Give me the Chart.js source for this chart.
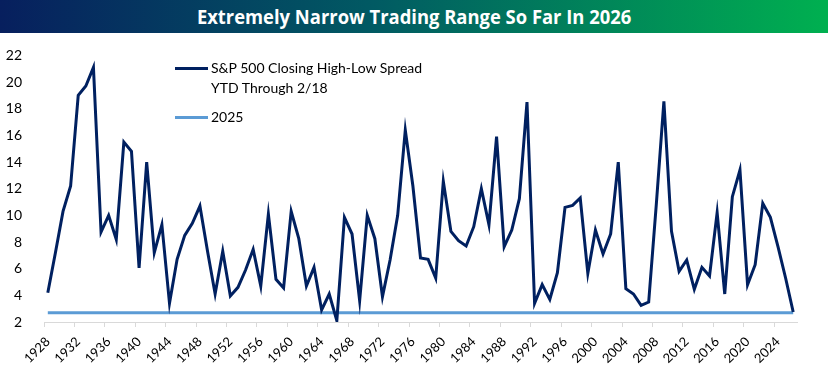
<!DOCTYPE html>
<html>
<head>
<meta charset="utf-8">
<script src="https://cdn.jsdelivr.net/npm/chart.js@4"></script>
<style>
    body { margin: 0; background: #fff; }
    #wrap { position: relative; width: 828px; height: 372px; overflow: hidden; }
    #title {
        position: absolute; left: 0; top: 0; width: 828px; height: 33px;
        background: linear-gradient(to right, #071f5e, #015a63 45%, #00b050);
        color: #fff; font-family: 'Liberation Sans Narrow', 'Open Sans', sans-serif;
        font-weight: bold; font-size: 20px; line-height: 33px; text-align: center;
    }
    #title span { display: inline-block; transform: scaleX(0.92); }
    #chartBox { position: absolute; left: 0; top: 33px; width: 828px; height: 339px; }
    .legend { position: absolute; font-family: Lato, sans-serif; font-size: 14px; color: #000; line-height: 20px; }
    .swatch { position: absolute; height: 3px; width: 33px; }
</style>
</head>
<body>
<div id="wrap">
    <div id="title"><span>Extremely Narrow Trading Range So Far In 2026</span></div>
    <div id="chartBox"><canvas id="spreadChart" width="828" height="339"></canvas></div>
    <div class="swatch" style="left:175px; top:67px; background:#002060;"></div>
    <div class="legend" style="left:211px; top:58px;">S&amp;P 500 Closing High-Low Spread<br>YTD Through 2/18</div>
    <div class="swatch" style="left:175px; top:116px; background:#5b9bd5;"></div>
    <div class="legend" style="left:211px; top:107px;">2025</div>
</div>
<script>
// Years on the category axis
const years = Array.from({ length: 2026 - 1928 + 1 }, (_, i) => String(1928 + i));

// S&P 500 closing high-low spread, YTD through 2/18 (%)
const spread = [
    4.2, 7.2, 10.3, 12.2, 19.0, 19.7, 21.1, 8.75, 10.0, 8.2,      // 1928-1937
    15.5, 14.8, 6.05, 14.0, 7.2, 9.3, 3.4, 6.7, 8.5, 9.4,        // 1938-1947
    10.7, 7.3, 4.1, 7.3, 3.95, 4.6, 5.9, 7.45, 4.7, 10.1,        // 1948-1957
    5.2, 4.55, 10.3, 8.25, 4.7, 6.1, 2.9, 4.1, 2.1, 9.85,        // 1958-1967
    8.6, 3.6, 10.0, 8.25, 3.9, 6.65, 10.0, 16.4, 12.2, 6.8,      // 1968-1977
    6.7, 5.3, 12.55, 8.8, 8.1, 7.7, 9.15, 12.0, 9.3, 15.9,       // 1978-1987
    7.65, 8.9, 11.25, 18.5, 3.4, 4.8, 3.7, 5.7, 10.6, 10.75,     // 1988-1997
    11.3, 5.65, 8.9, 7.1, 8.6, 14.0, 4.5, 4.1, 3.25, 3.5,        // 1998-2007
    10.8, 18.55, 8.8, 5.8, 6.65, 4.45, 6.1, 5.45, 10.2, 4.1,     // 2008-2017
    11.4, 13.4, 4.8, 6.3, 10.9, 9.85, 7.65, 5.3, 2.75            // 2018-2026
];

// Full-year 2025 spread, drawn as a flat reference line
const spread2025 = 2.7;

const navy = '#002060';
const lightBlue = '#5b9bd5';

const ctx = document.querySelector('#spreadChart').getContext('2d');
new Chart(ctx, {
    type: 'line',
    data: {
        labels: years,
        datasets: [
            {
                label: '2025',
                data: years.map(() => spread2025),
                borderColor: lightBlue,
                borderWidth: 3,
                pointRadius: 0,
                order: 2
            },
            {
                label: 'S&P 500 Closing High-Low Spread YTD Through 2/18',
                data: spread,
                borderColor: navy,
                borderWidth: 3,
                pointRadius: 0,
                tension: 0,
                order: 1
            }
        ]
    },
    options: {
        responsive: false,
        animation: false,
        layout: { padding: { top: 15, right: 31, left: 0, bottom: 0 } },
        plugins: {
            legend: { display: false },
            tooltip: { enabled: false }
        },
        scales: {
            x: {
                offset: true,
                grid: {
                    offset: true,
                    drawOnChartArea: false,
                    tickLength: 5,
                    color: c => (c.index % 4 === 0 ? '#d9d9d9' : 'transparent')
                },
                border: { color: '#d9d9d9', width: 1 },
                ticks: {
                    autoSkip: false,
                    minRotation: 45,
                    maxRotation: 45,
                    padding: 7,
                    color: '#000',
                    font: { family: 'Lato', size: 13 },
                    callback: (v, i) => (i % 4 === 0 ? years[i] : '')
                },
                afterFit: scale => { scale.height = 50; }
            },
            y: {
                min: 2,
                max: 22,
                grid: { display: false },
                border: { display: false },
                ticks: {
                    stepSize: 2,
                    padding: 14,
                    color: '#000',
                    font: { family: 'Lato', size: 14 }
                },
                afterFit: scale => { scale.width = 44; }
            }
        }
    }
});
</script>
</body>
</html>
